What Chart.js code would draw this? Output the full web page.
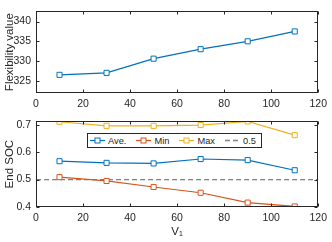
<!DOCTYPE html>
<html>
<head>
<meta charset="utf-8">
<script src="https://cdn.jsdelivr.net/npm/chart.js@4.4.1/dist/chart.umd.min.js"></script>
<style>
    body { margin: 0; background: #fff; width: 332px; height: 242px; position: relative; overflow: hidden; font-family: "Liberation Sans", Arial, sans-serif; }
    #flexChart { position: absolute; left: 0; top: 0; }
    #socChart { position: absolute; left: 0; top: 110px; }
    #legend { position: absolute; left: 87px; top: 133px; height: 13px; border: 1px solid #262626; background: #fff; display: flex; align-items: center; padding: 0 5px 0 2px; font-size: 9.3px; color: #262626; white-space: nowrap; }
    #legend .item { display: flex; align-items: center; margin-right: 10px; }
    #legend .item:last-child { margin-right: 0; }
    #legend svg { margin-right: 3px; }
</style>
</head>
<body>
<canvas id="flexChart" width="332" height="110"></canvas>
<canvas id="socChart" width="332" height="132"></canvas>
<div id="legend"></div>
<script>
var vValues = [10, 30, 50, 70, 90, 110];
var flexValues = [326.5, 327.0, 330.6, 333.0, 335.0, 337.5];
var aveSoc = [0.567, 0.561, 0.559, 0.575, 0.571, 0.534];
var minSoc = [0.509, 0.495, 0.473, 0.452, 0.416, 0.402];
var maxSoc = [0.711, 0.696, 0.696, 0.699, 0.712, 0.662];
var refSoc = 0.5;
var xTicks = [0, 20, 40, 60, 80, 100, 120];
var flexTicks = [325, 330, 335, 340];
var socTicks = [0.4, 0.5, 0.6, 0.7];

var blue = '#0072BD';
var orange = '#D95319';
var yellow = '#EDB120';
var gray = '#808080';
var ink = '#262626';

function points(ys) {
    return vValues.map(function (v, i) { return { x: v, y: ys[i] }; });
}

function series(label, ys, color) {
    return {
        label: label,
        data: points(ys),
        borderColor: color,
        backgroundColor: '#fff',
        borderWidth: 1.2,
        pointStyle: 'rect',
        pointRadius: 3.6,
        pointBorderWidth: 1,
        pointBorderColor: color,
        pointBackgroundColor: '#fff',
        tension: 0
    };
}

// box around the plot with inward tick marks, like the original figure
var framePlugin = {
    id: 'frame',
    afterDatasetsDraw: function (chart) {
        var ctx = chart.ctx;
        var a = chart.chartArea;
        var l = Math.round(a.left) + 0.5, r = Math.round(a.right) - 0.5;
        var t = Math.round(a.top) + 0.5, b = Math.round(a.bottom) - 0.5;
        ctx.save();
        ctx.strokeStyle = ink;
        ctx.lineWidth = 1;
        ctx.strokeRect(l, t, r - l, b - t);
        ctx.beginPath();
        chart.scales.x.ticks.forEach(function (tk) {
            var px = Math.round(chart.scales.x.getPixelForValue(tk.value)) + 0.5;
            ctx.moveTo(px, b); ctx.lineTo(px, b - 3);
            ctx.moveTo(px, t); ctx.lineTo(px, t + 3);
        });
        chart.scales.y.ticks.forEach(function (tk) {
            var py = Math.round(chart.scales.y.getPixelForValue(tk.value)) + 0.5;
            ctx.moveTo(l, py); ctx.lineTo(l + 3, py);
            ctx.moveTo(r, py); ctx.lineTo(r - 3, py);
        });
        ctx.stroke();
        ctx.restore();
    }
};

function xScale(height, title) {
    return {
        type: 'linear',
        min: 0,
        max: 120,
        grid: { display: false, drawTicks: false },
        border: { display: false },
        afterBuildTicks: function (s) { s.ticks = xTicks.map(function (v) { return { value: v }; }); },
        afterFit: function (s) { s.height = height; },
        ticks: { padding: 5, maxRotation: 0, color: ink, font: { size: 10.5, family: 'Liberation Sans' } },
        title: title ? { display: true, text: title, color: ink, padding: { top: 0, bottom: 3 }, font: { size: 11.5, family: 'Liberation Sans' } } : { display: false }
    };
}

function yScale(min, max, ticks, title, digits) {
    return {
        type: 'linear',
        min: min,
        max: max,
        grid: { display: false, drawTicks: false },
        border: { display: false },
        afterBuildTicks: function (s) { s.ticks = ticks.map(function (v) { return { value: v }; }); },
        afterFit: function (s) { s.width = 36; },
        ticks: {
            padding: 5,
            color: ink,
            font: { size: 10.5, family: 'Liberation Sans' },
            callback: function (v) { return Number(v).toFixed(digits); }
        },
        title: { display: true, text: title, color: ink, padding: { top: 3, bottom: 0 }, font: { size: 11.5, family: 'Liberation Sans' } }
    };
}

Chart.defaults.animation = false;

var flexChart = new Chart(document.getElementById('flexChart').getContext('2d'), {
    type: 'line',
    data: { datasets: [series('Flexibility', flexValues, blue)] },
    options: {
        responsive: false,
        layout: { padding: { left: 0, right: 11, top: 2, bottom: 0 } },
        plugins: { legend: { display: false }, tooltip: { enabled: false } },
        scales: {
            x: xScale(17, null),
            y: yScale(321.9, 342.6, flexTicks, 'Flexibility value', 0)
        }
    },
    plugins: [framePlugin]
});

var refLine = {
    label: String(refSoc),
    data: [{ x: 0, y: refSoc }, { x: 120, y: refSoc }],
    borderColor: gray,
    borderWidth: 1.3,
    borderDash: [5, 3],
    pointRadius: 0
};

var socChart = new Chart(document.getElementById('socChart').getContext('2d'), {
    type: 'line',
    data: {
        datasets: [
            series('Ave.', aveSoc, blue),
            series('Min', minSoc, orange),
            series('Max', maxSoc, yellow),
            refLine
        ]
    },
    options: {
        responsive: false,
        layout: { padding: { left: 0, right: 11, top: 5.3, bottom: 0 } },
        plugins: { legend: { display: false }, tooltip: { enabled: false } },
        scales: {
            x: xScale(35, 'V\u2081'),
            y: yScale(0.4, 0.7126, socTicks, 'End SOC', 1)
        }
    },
    plugins: [framePlugin]
});

// legend built from the chart's datasets
var legend = document.getElementById('legend');
socChart.data.datasets.forEach(function (ds) {
    var item = document.createElement('div');
    item.className = 'item';
    var c = ds.borderColor;
    var svg = '<svg width="15" height="9" viewBox="0 0 15 9">';
    if (ds.borderDash) {
        svg += '<line x1="0" y1="4.5" x2="15" y2="4.5" stroke="' + c + '" stroke-width="1.3" stroke-dasharray="5 3"/>';
    } else {
        svg += '<line x1="0" y1="4.5" x2="15" y2="4.5" stroke="' + c + '" stroke-width="1.2"/>';
        svg += '<rect x="5" y="2" width="5" height="5" fill="#fff" stroke="' + c + '" stroke-width="1"/>';
    }
    svg += '</svg>';
    item.innerHTML = svg + '<span>' + ds.label + '</span>';
    legend.appendChild(item);
});
</script>
</body>
</html>
